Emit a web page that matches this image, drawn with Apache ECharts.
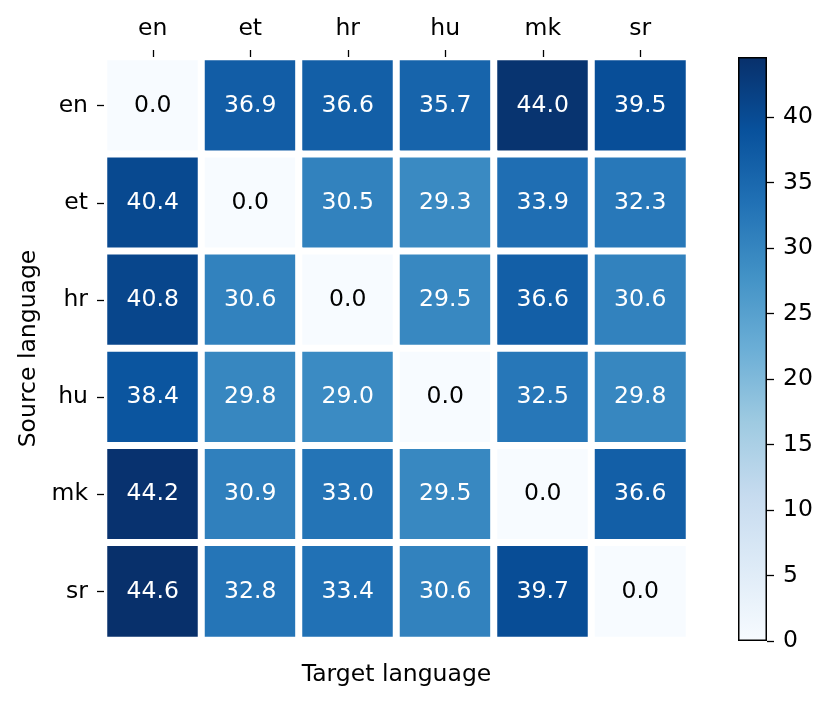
<!DOCTYPE html>
<html>
<head>
<meta charset="utf-8">
<script src="https://cdn.jsdelivr.net/npm/echarts@6/dist/echarts.min.js"></script>
<style>
html,body{margin:0;padding:0;background:#fff;}
#chart{width:831px;height:705px;}
</style>
</head>
<body>
<div id="chart"></div>
<script>
const languages = ['en', 'et', 'hr', 'hu', 'mk', 'sr'];
const rowEn = [0.0, 36.9, 36.6, 35.7, 44.0, 39.5];
const rowEt = [40.4, 0.0, 30.5, 29.3, 33.9, 32.3];
const rowHr = [40.8, 30.6, 0.0, 29.5, 36.6, 30.6];
const rowHu = [38.4, 29.8, 29.0, 0.0, 32.5, 29.8];
const rowMk = [44.2, 30.9, 33.0, 29.5, 0.0, 36.6];
const rowSr = [44.6, 32.8, 33.4, 30.6, 39.7, 0.0];
const colorbarTicks = [0, 5, 10, 15, 20, 25, 30, 35, 40];
const colorMin = 0;
const colorMax = 44.6;

const rows = [rowEn, rowEt, rowHr, rowHu, rowMk, rowSr];
const blues = ['#f7fbff', '#deebf7', '#c6dbef', '#9ecae1', '#6baed6', '#4292c6', '#2171b5', '#08519c', '#08306b'];
const FONT = 'DejaVu Sans';
const FS = 23.5;

const heatData = [];
rows.forEach((row, yi) => {
  row.forEach((v, xi) => {
    heatData.push({
      value: [xi, yi, v],
      label: { color: v > 22 ? '#ffffff' : '#000000' }
    });
  });
});

const tickStyle = { color: '#000', width: 1.3 };

const chart = echarts.init(document.getElementById('chart'), null, { renderer: 'canvas' });
chart.setOption({
  animation: false,
  backgroundColor: '#ffffff',
  textStyle: { fontFamily: FONT },
  grid: [
    { left: 104, top: 57, width: 585, height: 583 },
    { left: 738, top: 57, width: 29, height: 584 }
  ],
  xAxis: [
    {
      gridIndex: 0, type: 'category', data: languages, position: 'top', z: 10,
      axisLine: { show: false },
      axisTick: { show: true, alignWithLabel: true, length: 7, lineStyle: tickStyle },
      axisLabel: { fontFamily: FONT, fontSize: FS, color: '#000', margin: 16 },
      splitLine: { show: false }
    },
    {
      gridIndex: 0, type: 'category', data: languages, position: 'bottom',
      axisLine: { show: false }, axisTick: { show: false }, axisLabel: { show: false },
      name: 'Target language', nameLocation: 'middle', nameGap: 23,
      nameTextStyle: { fontFamily: FONT, fontSize: FS, color: '#000', verticalAlign: 'top' }
    },
    {
      gridIndex: 1, type: 'category', data: ['cb'],
      axisLine: { show: false }, axisTick: { show: false }, axisLabel: { show: false }
    }
  ],
  yAxis: [
    {
      gridIndex: 0, type: 'category', data: languages, inverse: true, z: 10,
      axisLine: { show: false },
      axisTick: { show: true, alignWithLabel: true, length: 7, lineStyle: tickStyle },
      axisLabel: { fontFamily: FONT, fontSize: FS, color: '#000', margin: 16 },
      name: 'Source language', nameLocation: 'middle', nameGap: 62, nameRotate: 90,
      nameTextStyle: { fontFamily: FONT, fontSize: FS, color: '#000' }
    },
    {
      gridIndex: 1, type: 'value', position: 'right', min: colorMin, max: colorMax, z: 10,
      axisLine: { show: false },
      axisTick: { show: true, inside: false, length: 7, customValues: colorbarTicks, lineStyle: tickStyle },
      axisLabel: { fontFamily: FONT, fontSize: FS, color: '#000', margin: 16, customValues: colorbarTicks },
      splitLine: { show: false }
    }
  ],
  visualMap: {
    show: false, type: 'continuous', seriesIndex: 0, dimension: 2,
    min: colorMin, max: colorMax,
    inRange: { color: blues }
  },
  series: [
    {
      type: 'heatmap', xAxisIndex: 0, yAxisIndex: 0,
      data: heatData,
      itemStyle: { borderColor: '#ffffff', borderWidth: 7 },
      label: {
        show: true, fontFamily: FONT, fontSize: FS,
        formatter: p => p.value[2].toFixed(1)
      },
      emphasis: { disabled: true }
    },
    {
      type: 'bar', xAxisIndex: 2, yAxisIndex: 1,
      barWidth: '100%', silent: true,
      data: [colorMax],
      itemStyle: {
        borderColor: '#000', borderWidth: 1.5,
        color: new echarts.graphic.LinearGradient(0, 1, 0, 0,
          blues.map((c, i) => ({ offset: i / (blues.length - 1), color: c })))
      }
    }
  ]
});
</script>
</body>
</html>
